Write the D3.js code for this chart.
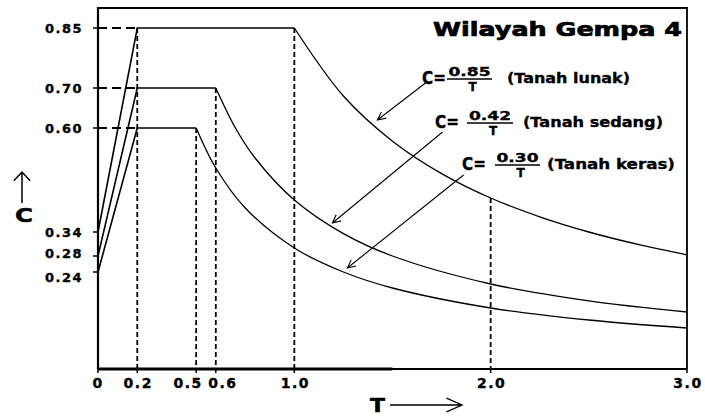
<!DOCTYPE html>
<html>
<head>
<meta charset="utf-8">
<script src="https://cdn.jsdelivr.net/npm/d3@7"></script>
<style>
  body { margin: 0; background: #fff; }
  svg { display: block; }
  text { font-family: "DejaVu Sans", Verdana, sans-serif; font-weight: bold; fill: #000; }
  .heavy { stroke: #000; stroke-width: 0.35px; }
</style>
</head>
<body>
<svg id="chart" width="705" height="418"></svg>
<script>
// Tick values and labels
const periodTicks = [0, 0.2, 0.5, 0.6, 1.0, 2.0, 3.0];
const periodLabels = ["0", "0.2", "0.5", "0.6", "1.0", "2.0", "3.0"];
const coefTicks = [0.85, 0.70, 0.60, 0.34, 0.28, 0.24];
const coefLabels = ["0.85", "0.70", "0.60", "0.34", "0.28", "0.24"];

// Soil classes and the numerators of C = a / T
const soilNames = ["Tanah lunak", "Tanah sedang", "Tanah keras"];
const soilNumerators = ["0.85", "0.42", "0.30"];

// Response spectra: period T (s) and coefficient C
const lunakT = [0, 0.2, 1.0, 1.25, 1.5, 1.75, 2.0, 2.25, 2.5, 2.75, 3.0];
const lunakC = [0.34, 0.85, 0.85, 0.68, 0.567, 0.486, 0.425, 0.378, 0.34, 0.309, 0.283];
const sedangT = [0, 0.2, 0.6, 0.7, 0.8, 1.0, 1.25, 1.5, 2.0, 2.5, 3.0];
const sedangC = [0.28, 0.70, 0.70, 0.60, 0.525, 0.42, 0.336, 0.28, 0.21, 0.168, 0.14];
const kerasT = [0, 0.2, 0.5, 0.6, 0.75, 1.0, 1.25, 1.5, 2.0, 2.5, 3.0];
const kerasC = [0.24, 0.60, 0.60, 0.50, 0.40, 0.30, 0.24, 0.20, 0.15, 0.12, 0.10];

const series = [
  { T: lunakT, C: lunakC },
  { T: sedangT, C: sedangC },
  { T: kerasT, C: kerasC }
].map(s => s.T.map((t, i) => ({ t, c: s.C[i] })));

const svg = d3.select("#chart");
const x = d3.scaleLinear().domain([0, 3]).range([98, 687]);
const y = d3.scaleLinear().domain([0, 0.9]).range([368, 8]);

// Frame: top and right edges
svg.append("path")
  .attr("d", `M${x(0)},${y(0.9)}H${x(3)}V${y(0) + 1}`)
  .attr("fill", "none").attr("stroke", "#000").attr("stroke-width", 1.8);

// Dashed guide lines
const guides = [];
const plateauStart = series[0][1].t;
series.forEach(s => {
  guides.push([[0, s[1].c], [plateauStart, s[1].c]]);
  guides.push([[s[2].t, s[2].c], [s[2].t, 0]]);
});
guides.push([[plateauStart, d3.max(series, s => s[1].c)], [plateauStart, 0]]);
const atTwo = series[0].find(d => d.t === 2.0);
guides.push([[atTwo.t, atTwo.c], [atTwo.t, 0]]);

svg.append("g").selectAll("line").data(guides).join("line")
  .attr("x1", d => x(d[0][0])).attr("y1", d => y(d[0][1]))
  .attr("x2", d => x(d[1][0])).attr("y2", d => y(d[1][1]))
  .attr("stroke", "#000").attr("stroke-width", 1.8)
  .attr("stroke-dasharray", d => d[0][1] === d[1][1] ? "9,5" : "5,3");

// Spectrum curves: straight ramp + plateau, smooth decay
const linear = d3.line().x(d => x(d.t)).y(d => y(d.c));
const smooth = d3.line().x(d => x(d.t)).y(d => y(d.c)).curve(d3.curveCatmullRom.alpha(0.5));
const curves = svg.append("g").attr("fill", "none").attr("stroke", "#000");
series.forEach(s => {
  curves.append("path").attr("d", linear(s.slice(0, 3))).attr("stroke-width", 1.6);
  curves.append("path").attr("d", smooth(s.slice(2))).attr("stroke-width", 1.3);
});

// Axes
const axisG = svg.append("g").attr("stroke", "#000");
axisG.append("line")
  .attr("x1", x(0)).attr("x2", x(0)).attr("y1", y(0.9) - 1).attr("y2", y(0) + 1)
  .attr("stroke-width", 2.2);
axisG.append("line")
  .attr("x1", x(0)).attr("x2", x(3)).attr("y1", y(0) + 1).attr("y2", y(0) + 1)
  .attr("stroke-width", 1.8);
axisG.append("line")
  .attr("x1", x(0)).attr("x2", x(1.5)).attr("y1", y(0) + 1).attr("y2", y(0) + 1)
  .attr("stroke-width", 3);

// Y ticks
const yLabelShift = { "0.28": -3, "0.24": 5 };
coefTicks.forEach((v, i) => {
  svg.append("line").attr("x1", x(0) - 5).attr("x2", x(0)).attr("y1", y(v)).attr("y2", y(v))
    .attr("stroke", "#000").attr("stroke-width", 1.5);
  svg.append("text").attr("class", "heavy")
    .attr("x", 83).attr("y", y(v) + 5 + (yLabelShift[coefLabels[i]] || 0))
    .attr("text-anchor", "end").attr("font-size", 13).attr("letter-spacing", 1.5)
    .text(coefLabels[i]);
});

// X ticks
const xLabelShift = { "0.5": -9, "0.6": 6, "0": -1 };
periodTicks.forEach((v, i) => {
  svg.append("line").attr("x1", x(v)).attr("x2", x(v)).attr("y1", y(0) + 1).attr("y2", y(0) + 5)
    .attr("stroke", "#000").attr("stroke-width", 1.5);
  svg.append("text").attr("class", "heavy")
    .attr("x", x(v) + 1 + (xLabelShift[periodLabels[i]] || 0)).attr("y", 388)
    .attr("text-anchor", "middle").attr("font-size", 14).attr("letter-spacing", 1.5)
    .text(periodLabels[i]);
});

// Open arrow helper
function arrow(x1, y1, x2, y2, len, half, width) {
  const a = Math.atan2(y2 - y1, x2 - x1);
  const p1 = [x2 - len * Math.cos(a - half), y2 - len * Math.sin(a - half)];
  const p2 = [x2 - len * Math.cos(a + half), y2 - len * Math.sin(a + half)];
  svg.append("path")
    .attr("d", `M${x1},${y1}L${x2},${y2}M${p1[0]},${p1[1]}L${x2},${y2}L${p2[0]},${p2[1]}`)
    .attr("fill", "none").attr("stroke", "#000").attr("stroke-width", width);
}

// Axis titles
svg.append("text").attr("x", 15).attr("y", 222).attr("font-size", 19)
  .attr("textLength", 18).attr("lengthAdjust", "spacingAndGlyphs")
  .attr("stroke", "#000").attr("stroke-width", 0.5).text("C");
arrow(22, 203, 22, 172, 12, 0.75, 1.5);
svg.append("text").attr("x", 370).attr("y", 412).attr("font-size", 19)
  .attr("textLength", 15).attr("lengthAdjust", "spacingAndGlyphs")
  .attr("stroke", "#000").attr("stroke-width", 0.5).text("T");
arrow(390, 405, 462, 405, 17, 0.42, 1.3);

// Title
svg.append("text").attr("x", 433).attr("y", 36).attr("font-size", 19)
  .attr("textLength", 249).attr("lengthAdjust", "spacingAndGlyphs")
  .attr("stroke", "#000").attr("stroke-width", 0.7)
  .text("Wilayah Gempa 4");

// Formula labels with leader arrows
const labelLayout = [
  { cx: 422, bar: 79, barX: [447, 492], nameX: 507, nameW: 123, from: [1.668, 0.7125], to: [1.423, 0.62] },
  { cx: 435, bar: 123, barX: [467, 513], nameX: 523, nameW: 140, from: [1.755, 0.59], to: [1.194, 0.3625] },
  { cx: 462, bar: 165, barX: [495, 540], nameX: 547, nameW: 128, from: [1.862, 0.4825], to: [1.27, 0.25] }
];
labelLayout.forEach((L, i) => {
  const g = svg.append("g");
  g.append("text").attr("class", "heavy").attr("x", L.cx).attr("y", L.bar + 5).attr("font-size", 17)
    .attr("textLength", 24).attr("lengthAdjust", "spacingAndGlyphs").text("C=");
  const mid = (L.barX[0] + L.barX[1]) / 2;
  g.append("text").attr("class", "heavy").attr("x", mid).attr("y", L.bar - 3.5).attr("font-size", 12)
    .attr("text-anchor", "middle").attr("textLength", 42).attr("lengthAdjust", "spacingAndGlyphs")
    .text(soilNumerators[i]);
  g.append("line").attr("x1", L.barX[0]).attr("x2", L.barX[1]).attr("y1", L.bar).attr("y2", L.bar)
    .attr("stroke", "#000").attr("stroke-width", 1.6);
  g.append("text").attr("class", "heavy").attr("x", mid + 3).attr("y", L.bar + 11.5).attr("font-size", 12)
    .attr("text-anchor", "middle").text("T");
  g.append("text").attr("class", "heavy").attr("x", L.nameX).attr("y", L.bar + 4).attr("font-size", 14)
    .attr("textLength", L.nameW).attr("lengthAdjust", "spacingAndGlyphs")
    .text(`(${soilNames[i]})`);
  arrow(x(L.from[0]), y(L.from[1]), x(L.to[0]), y(L.to[1]), 9, 0.45, 1.1);
});
</script>
</body>
</html>
